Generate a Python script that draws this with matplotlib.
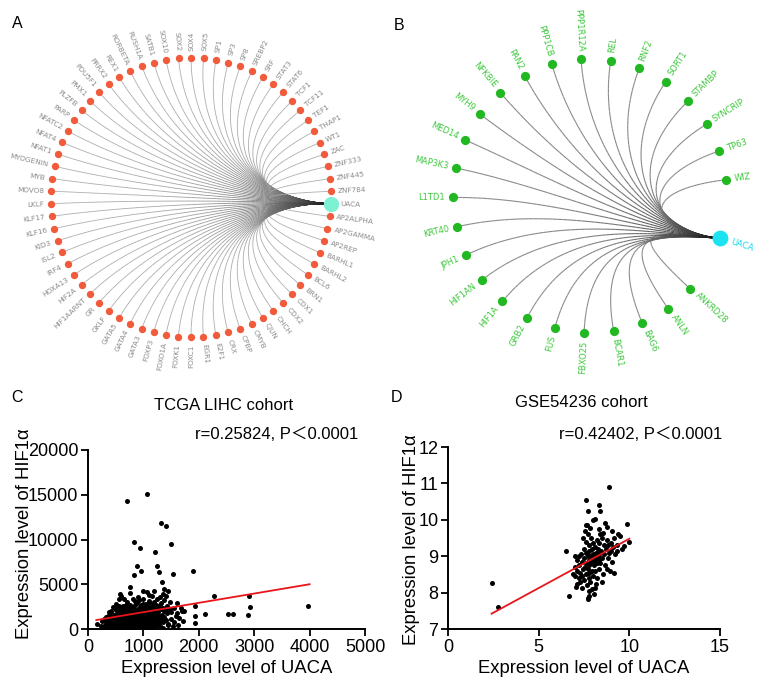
import numpy as np
import matplotlib
matplotlib.use("Agg")
import matplotlib.pyplot as plt
from matplotlib.collections import LineCollection

# ---------------- data ----------------
# Panel A: transcription factors linked to UACA (alphabetical, clockwise from UACA)
tf_genes = ["AP2ALPHA", "AP2GAMMA", "AP2REP", "BARHL1", "BARHL2", "BCL6", "BRN1",
            "CDX1", "CDX2", "CHCH", "CJUN", "CMYB", "CPBP", "CRX", "E2F1", "EGR1",
            "FOXC1", "FOXK1", "FOXO1A", "FOXP3", "GATA3", "GATA4", "GATA5", "GKLF",
            "GR", "HIF1AARNT", "HIF2A", "HOXA13", "IRF4", "ISL2", "KID3", "KLF16",
            "KLF17", "LKLF", "MOVO8", "MYB", "MYOGENIN", "NFAT1", "NFAT4", "NFATC2",
            "PARP", "PLZFB", "PMX1", "POU5F1", "PRRX2", "REX1", "RORBETA", "RUSH1A",
            "SATB1", "SOX10", "SOX2", "SOX4", "SOX5", "SP1", "SP3", "SP8", "SREBP2",
            "SRF", "STAT3", "STAT6", "TCF1", "TCF11", "TEF1", "THAP1", "WT1", "ZAC",
            "ZNF333", "ZNF445", "ZNF784"]

# Panel B: proteins interacting with UACA (alphabetical, clockwise from UACA)
ppi_genes = ["ANKRD28", "ANLN", "BAG6", "BCAR1", "FBXO25", "FUS", "GRB2", "HIF1A",
             "HIF1AN", "JPH1", "KRT40", "L1TD1", "MAP3K3", "MED14", "MYH9", "NFKBIE",
             "PAN2", "PPP1CB", "PPP1R12A", "REL", "RNF2", "SORT1", "STAMBP", "SYNCRIP",
             "TP63", "WIZ"]
hub_gene = "UACA"

# Panel C: TCGA LIHC cohort (UACA expression, HIF1a expression)
tcga_points = [
    # dense low band
    (160, 600), (230, 300), (260, 150), (300, 450), (340, 250), (360, 700), (380, 100),
    (400, 500), (420, 300), (440, 650), (460, 150), (480, 400), (500, 80), (510, 550),
    (530, 300), (550, 700), (560, 150), (580, 450), (600, 250), (610, 600), (630, 100),
    (650, 380), (660, 700), (680, 200), (700, 500), (710, 50), (730, 300), (750, 650),
    (760, 150), (780, 420), (800, 250), (820, 600), (830, 80), (850, 350), (870, 500),
    (880, 150), (900, 300), (920, 650), (940, 200), (960, 450), (980, 100), (1000, 350),
    (1020, 600), (1040, 200), (1060, 450), (1080, 100), (1100, 300), (1120, 550),
    (1140, 200), (1160, 400), (1200, 250), (1250, 500), (1300, 350), (1350, 150),
    (310, 150), (350, 550), (390, 350), (450, 450), (490, 250), (540, 400), (590, 300),
    (670, 350), (770, 300), (930, 400), (1030, 400), (1130, 450), (1440, 400),
    # 600-1200
    (250, 900), (290, 1100), (320, 800), (350, 1000), (370, 900), (400, 1150), (420, 800),
    (440, 1000), (460, 900), (480, 1200), (500, 850), (520, 1050), (540, 950), (560, 1150),
    (580, 800), (600, 1000), (620, 900), (640, 1200), (660, 850), (680, 1050), (700, 950),
    (720, 1150), (740, 800), (760, 1000), (780, 900), (800, 1200), (820, 850), (840, 1050),
    (860, 950), (880, 1150), (900, 800), (920, 1000), (940, 900), (960, 1200), (980, 850),
    (1000, 1050), (1020, 950), (1040, 1150), (1060, 800), (1080, 1000), (1100, 900),
    (1130, 1200), (1160, 850), (1190, 1050), (1220, 950), (1260, 1150), (1300, 900),
    (410, 950), (470, 750), (520, 650), (570, 1000), (610, 800), (630, 550), (650, 1100),
    (690, 750), (730, 550), (750, 950), (790, 700), (810, 1100), (830, 450), (850, 850),
    (890, 550), (910, 950), (950, 750), (970, 1100), (990, 550), (1010, 850), (1050, 1000),
    (1070, 650), (1110, 700), (1150, 1000), (1170, 650), (1210, 750), (1280, 600),
    (1320, 1100), (1360, 800), (1400, 1000),
    # 1200-1800
    (320, 1300), (360, 1500), (400, 1400), (430, 1700), (460, 1300), (490, 1600),
    (520, 1450), (550, 1750), (570, 1350), (600, 1550), (630, 1300), (650, 1700),
    (680, 1450), (700, 1600), (730, 1350), (760, 1750), (780, 1500), (810, 1300),
    (840, 1650), (870, 1450), (900, 1800), (920, 1350), (950, 1550), (980, 1700),
    (1000, 1400), (1030, 1600), (1060, 1300), (1090, 1750), (1120, 1500), (1150, 1650),
    (1180, 1350), (1210, 1550), (1250, 1700), (1290, 1450), (1330, 1600), (1380, 1350),
    (1420, 1750), (710, 1300), (870, 1250), (1090, 1300), (1240, 1300),
    # 1800-2500
    (420, 2000), (480, 2300), (540, 1900), (580, 2200), (620, 2450), (660, 2000),
    (700, 2300), (740, 1900), (780, 2150), (820, 2400), (860, 2000), (900, 2250),
    (940, 1900), (980, 2450), (1010, 2100), (1050, 2300), (1080, 1950), (1110, 2200),
    (1150, 2450), (1190, 2050), (1230, 2300), (1270, 1950), (1310, 2200), (1350, 2400),
    (1400, 2050), (1450, 2250), (1500, 1900), (1560, 2350),
    (380, 1900), (510, 2100), (610, 1850), (640, 2150), (720, 2050), (770, 2450),
    (800, 1850), (880, 2100), (960, 2000), (1020, 2300), (1100, 1900), (1180, 2250),
    (1370, 2000), (1430, 2400),
    # 2500-3500
    (500, 2800), (560, 3300), (640, 2600), (700, 3000), (760, 2700), (820, 3400),
    (880, 2900), (920, 3200), (960, 2650), (1000, 3350), (1050, 2800), (1100, 3100),
    (1150, 2600), (1200, 3000), (1250, 3300), (1300, 2700), (1380, 3200), (1420, 2600),
    (1480, 3000), (1600, 2900), (450, 2500), (560, 2600), (690, 2650), (850, 2700),
    (930, 2500), (990, 2800), (1070, 2600), (1140, 2800), (1220, 2650), (1260, 2500),
    (1320, 2900), (850, 3100), (650, 3300),
    # 3500-4700
    (600, 3700), (750, 4000), (900, 3600), (1000, 4200), (1100, 3800), (1200, 4300),
    (1350, 3900), (1150, 3650), (570, 3870), (760, 4690), (1060, 4170), (1340, 5210),
    (1380, 4460), (1300, 3600), (1400, 3700), (1450, 4300),
    # right side of the cloud
    (1450, 600), (1500, 1100), (1550, 800), (1580, 1500), (1620, 400), (1650, 1200),
    (1700, 2000), (1720, 900), (1600, 1800), (1530, 300), (1480, 2200), (1680, 2400),
    (1740, 1970), (1930, 2530), (1930, 1410), (1930, 670), (2120, 1710), (2270, 3650),
    (2530, 1640), (2620, 1710), (2880, 1600), (2910, 3650), (2920, 2460), (3970, 2530),
    # high outliers
    (1070, 15100), (700, 14250), (1320, 11830), (1410, 11530), (830, 9670), (930, 9000),
    (1500, 9490), (1210, 8560), (890, 7000), (1250, 6990), (950, 6440), (830, 6060),
    (1280, 6320), (1530, 6140), (1900, 6510),
]
tcga_fit_x = [150, 4000]
tcga_fit_y = [1000, 5000]

# Panel D: GSE54236 cohort
gse_points = [
    (2.4, 8.27), (2.75, 7.6), (6.5, 9.15), (6.7, 7.92), (8.9, 10.91), (7.62, 10.54),
    (8.3, 10.4), (8.4, 10.25), (7.7, 10.25), (8.12, 10.03), (7.65, 9.85), (7.85, 9.78),
    (8.64, 9.92), (8.77, 9.81), (9.87, 9.88), (9.35, 9.6), (9.96, 9.4), (9.7, 9.27),
    (9.3, 9.15), (7.72, 7.86), (7.75, 7.9), (7.72, 7.83), (7.05, 8.15), (7.4, 8.12),
    (8.12, 8.12), (8.47, 8.3), (9.13, 8.55), (8.77, 8.64),
    (6.9, 8.5), (7.0, 8.7), (7.0, 8.45), (7.1, 8.9), (7.1, 8.6), (7.2, 8.4), (7.2, 9.0),
    (7.25, 8.75), (7.3, 8.3), (7.3, 8.55), (7.35, 9.05), (7.4, 8.85), (7.4, 8.45),
    (7.45, 8.65), (7.5, 9.2), (7.5, 8.95), (7.5, 8.35), (7.55, 8.7), (7.6, 9.4),
    (7.6, 9.1), (7.6, 8.8), (7.6, 8.5), (7.65, 8.2), (7.7, 9.0), (7.7, 8.65), (7.7, 9.6),
    (7.75, 8.9), (7.75, 8.4), (7.8, 9.3), (7.8, 9.15), (7.8, 8.75), (7.8, 8.55),
    (7.85, 9.0), (7.85, 8.3), (7.9, 9.5), (7.9, 8.85), (7.9, 8.95), (7.95, 9.2),
    (7.95, 8.6), (8.0, 9.05), (8.0, 8.9), (8.0, 8.45), (8.0, 9.35), (8.05, 8.75),
    (8.05, 9.0), (8.1, 9.25), (8.1, 8.85), (8.1, 8.6), (8.15, 9.1), (8.15, 8.95),
    (8.2, 9.45), (8.2, 8.8), (8.2, 8.4), (8.25, 9.0), (8.25, 9.2), (8.3, 8.9),
    (8.3, 8.65), (8.35, 9.35), (8.35, 9.05), (8.4, 8.8), (8.4, 9.6), (8.45, 9.15),
    (8.5, 8.95), (8.5, 9.5), (8.55, 8.5), (8.6, 9.3), (8.6, 9.05), (8.65, 8.75),
    (8.7, 9.2), (8.75, 9.45), (8.8, 8.95), (8.85, 9.3), (8.9, 9.1), (8.95, 8.6),
    (9.0, 9.35), (9.0, 9.15), (9.05, 8.85), (9.1, 9.25), (9.15, 9.5), (9.2, 9.05),
    (9.3, 9.3), (9.5, 9.55), (9.6, 9.2), (7.45, 9.5), (7.55, 9.7), (8.35, 9.75),
    (8.55, 9.65), (9.05, 9.7), (8.15, 8.25), (7.95, 8.1), (8.05, 7.95), (7.75, 8.05),
    (7.1, 8.25), (7.6, 9.85), (8.0, 10.0), (7.0, 9.0),
]
gse_fit_x = [2.4, 10.0]
gse_fit_y = [7.42, 9.48]

# ---------------- figure ----------------
W, H = 766, 681
fig = plt.figure(figsize=(W / 100, H / 100), dpi=100)
net = fig.add_axes([0, 0, 1, 1])
net.set_xlim(0, W)
net.set_ylim(H, 0)
net.axis("off")
net.patch.set_alpha(0)


def bezier(p0, p1, p2, p3, n=60):
    t = np.linspace(0, 1, n)[:, None]
    return ((1 - t) ** 3) * p0 + 3 * ((1 - t) ** 2) * t * p1 + 3 * (1 - t) * t ** 2 * p2 + t ** 3 * p3


def draw_network(genes, center, radius, hub_angle, n_slots, first_slot,
                 bundle_offset, node_color, node_size, hub_color, hub_size,
                 label_color, label_size, label_gap, edge_light, edge_lw, hub_label_gap):
    cx, cy = center
    step = 360.0 / n_slots
    hub_rad = np.deg2rad(hub_angle)
    hub = np.array([cx + radius * np.cos(hub_rad), cy - radius * np.sin(hub_rad)])
    ctr = np.array([cx, cy])
    bundle = hub + np.array(bundle_offset) * radius
    segs, cols = [], []
    pts = []
    for k, g in enumerate(genes):
        ang = hub_angle - (first_slot + k) * step
        a = np.deg2rad(ang)
        p = np.array([cx + radius * np.cos(a), cy - radius * np.sin(a)])
        pts.append(p)
        p1 = ctr + 0.3 * (p - ctr)
        curve = bezier(p, p1, bundle, hub)
        for i in range(len(curve) - 1):
            segs.append(curve[i:i + 2])
            t = i / (len(curve) - 2)
            lev = edge_light - (edge_light - 0.05) * t ** 3
            cols.append((lev, lev, lev, 1))
        # label
        angn = (ang + 180) % 360 - 180
        if -90 < angn <= 90:
            rot, ha = angn, "left"
        else:
            rot, ha = angn - 180 if angn > 0 else angn + 180, "right"
        lp = p + label_gap * np.array([np.cos(a), -np.sin(a)])
        net.text(lp[0], lp[1], g, rotation=rot, ha=ha, va="center",
                 rotation_mode="anchor", fontsize=label_size, color=label_color)
    net.add_collection(LineCollection(segs, colors=cols, linewidths=edge_lw, zorder=1))
    pts = np.array(pts)
    net.scatter(pts[:, 0], pts[:, 1], s=node_size, color=node_color, zorder=3, linewidths=0)
    net.scatter([hub[0]], [hub[1]], s=hub_size, color=hub_color[0], zorder=3, linewidths=0)
    hp = hub + hub_label_gap * np.array([np.cos(hub_rad), -np.sin(hub_rad)])
    net.text(hp[0], hp[1], hub_gene, rotation=hub_angle, ha="left", va="center",
             rotation_mode="anchor", fontsize=label_size, color=hub_color[1])


# Panel A
draw_network(tf_genes, (191, 197.5), 140, -2.6, 70, 1, (-0.45, -0.02),
             "#F15A3A", 28, ("#7DF2D3", "#8A8A8A"), 120, "#8A8A8A", 5.2, 7,
             0.68, 0.6, 10)
# Panel B
draw_network(ppi_genes, (590, 196), 137, -18, 29, 2, (-0.5, -0.04),
             "#22B822", 44, ("#1BE3F2", "#1BD8EE"), 130, "#3CC83C", 6.0, 8,
             0.55, 0.8, 11)

for lab, (x, y) in zip("ABCD", [(17, 24), (399, 26), (17, 397), (396, 398)]):
    net.text(x, y, lab, fontsize=11.5, ha="center", va="center", family="Liberation Sans")

# ---------------- scatter panels ----------------
TXT = ["Liberation Sans", "Noto Sans CJK SC", "DejaVu Sans"]


def style(ax):
    for s in ("top", "right"):
        ax.spines[s].set_visible(False)
    for s in ("left", "bottom"):
        ax.spines[s].set_linewidth(1.4)
    ax.tick_params(direction="out", length=5, width=1.3, labelsize=13, pad=2)
    for lab in ax.get_xticklabels() + ax.get_yticklabels():
        lab.set_family("Liberation Sans")


axC = fig.add_axes([88 / W, (H - 629) / H, (365 - 88) / W, (629 - 450) / H])
cx_, cy_ = zip(*tcga_points)
axC.scatter(cx_, cy_, s=13, color="black", linewidths=0, zorder=2)
axC.plot(tcga_fit_x, tcga_fit_y, color="#E8151B", lw=1.3, zorder=3)
axC.set_xlim(0, 5000)
axC.set_ylim(0, 20000)
axC.set_xticks([0, 1000, 2000, 3000, 4000, 5000])
axC.set_yticks([0, 5000, 10000, 15000, 20000])
style(axC)
axC.set_xlabel("Expression level of UACA", fontsize=13.3, family="Liberation Sans", labelpad=3)
axC.set_ylabel("Expression level of HIF1α", fontsize=13.3, family="Liberation Sans")
axC.yaxis.set_label_coords(-0.2, 0.53)
axC.text(0.49, 1.25, "TCGA LIHC cohort", transform=axC.transAxes, ha="center",
         va="center", fontsize=12, family="Liberation Sans")
axC.text(0.975, 1.085, "r=0.25824, P＜0.0001", transform=axC.transAxes, ha="right",
         va="center", fontsize=12, family=TXT)

axD = fig.add_axes([448 / W, (H - 629) / H, (720 - 448) / W, (629 - 447) / H])
dx_, dy_ = zip(*gse_points)
axD.scatter(dx_, dy_, s=13, color="black", linewidths=0, zorder=2)
axD.plot(gse_fit_x, gse_fit_y, color="#E8151B", lw=1.3, zorder=3)
axD.set_xlim(0, 15)
axD.set_ylim(7, 12)
axD.set_xticks([0, 5, 10, 15])
axD.set_yticks([7, 8, 9, 10, 11, 12])
style(axD)
axD.set_xlabel("Expression level of UACA", fontsize=13.3, family="Liberation Sans", labelpad=3)
axD.set_ylabel("Expression level of HIF1α", fontsize=13.3, family="Liberation Sans")
axD.yaxis.set_label_coords(-0.103, 0.49)
axD.text(0.49, 1.247, "GSE54236 cohort", transform=axD.transAxes, ha="center",
         va="center", fontsize=12, family="Liberation Sans")
axD.text(1.01, 1.066, "r=0.42402, P＜0.0001", transform=axD.transAxes, ha="right",
         va="center", fontsize=12, family=TXT)

fig.savefig("out.png", dpi=100)
